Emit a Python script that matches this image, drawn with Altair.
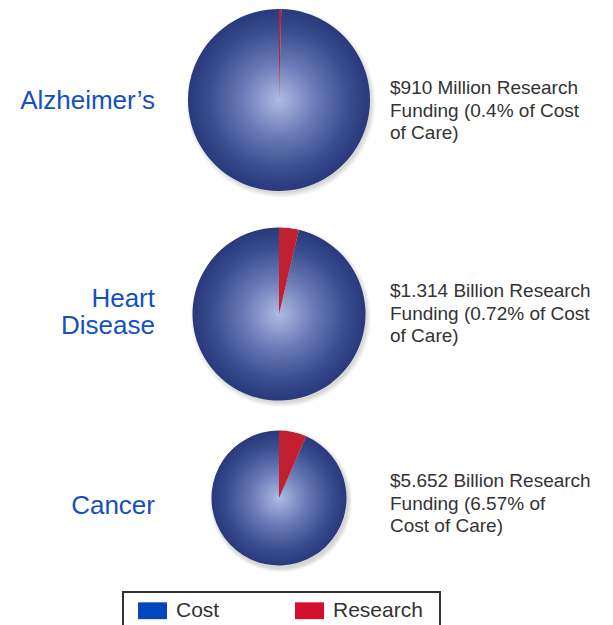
import math
import altair as alt
import pandas as pd

# ---------------- data ----------------
diseases = ["Alzheimer's", "Heart Disease", "Cancer"]
disease_labels = ["Alzheimer\u2019s", "Heart\nDisease", "Cancer"]
research_share = [0.4, 3.7, 6.6]      # % of each pie
cost_share = [99.6, 96.3, 93.4]
funding_notes = [
    "$910 Million Research\nFunding (0.4% of Cost\nof Care)",
    "$1.314 Billion Research\nFunding (0.72% of Cost\nof Care)",
    "$5.652 Billion Research\nFunding (6.57% of\nCost of Care)",
]
legend_categories = ["Cost", "Research"]
legend_colors = ["#0047bb", "#d2102e"]

# ---------------- layout / style ----------------
W, H = 597, 617
CX = 271
centers_y = [92, 306, 490]
radii = [91, 86.5, 67.5]
left_label_y = [101, 299, 506]
note_y = [86, 289, 479]
FONT = "Liberation Sans"
RED = "#c21f30"

pie_gradient = {
    "gradient": "radial",
    "x1": 0.5, "y1": 0.5, "r1": 0,
    "x2": 0.5, "y2": 0.5, "r2": 0.5,
    "stops": [
        {"offset": 0.0, "color": "#adbce3"},
        {"offset": 0.4, "color": "#6b7bb7"},
        {"offset": 0.78, "color": "#384b8d"},
        {"offset": 1.0, "color": "#283a7c"},
    ],
}
shadow_gradient = {
    "gradient": "radial",
    "x1": 0.5, "y1": 0.5, "r1": 0,
    "x2": 0.5, "y2": 0.5, "r2": 0.5,
    "stops": [
        {"offset": 0.0, "color": "rgba(0,0,0,0.22)"},
        {"offset": 0.94, "color": "rgba(0,0,0,0.16)"},
        {"offset": 1.0, "color": "rgba(0,0,0,0)"},
    ],
}

rows = []
for d, c, r in zip(diseases, cost_share, research_share):
    rows.append({"disease": d, "type": "Cost", "share": c})
    rows.append({"disease": d, "type": "Research", "share": r})
pie_df = pd.DataFrame(rows)
label_df = pd.DataFrame({"disease": diseases, "label": disease_labels, "note": funding_notes})

layers = []
for i, d in enumerate(diseases):
    shadow = alt.Chart(alt.Data(values=[{}])).mark_arc(
        theta=0, theta2=2 * math.pi, radius=radii[i] + 4, fill=shadow_gradient
    ).encode(x=alt.value(CX + 2), y=alt.value(centers_y[i] + 3))

    pie = alt.Chart(pie_df).transform_filter(alt.datum.disease == d).mark_arc(
        radius=radii[i]
    ).encode(
        theta=alt.Theta("share:Q", stack=True),
        order=alt.Order("type:N", sort="descending"),
        fill=alt.condition(alt.datum.type == "Cost", alt.value(pie_gradient), alt.value(RED)),
        x=alt.value(CX),
        y=alt.value(centers_y[i]),
    )

    left = alt.Chart(label_df).transform_filter(alt.datum.disease == d).mark_text(
        align="right", baseline="alphabetic", font=FONT, fontSize=26,
        color="#1450c0", lineBreak="\n", lineHeight=27,
    ).encode(text="label:N", x=alt.value(147), y=alt.value(left_label_y[i]))

    note = alt.Chart(label_df).transform_filter(alt.datum.disease == d).mark_text(
        align="left", baseline="alphabetic", font=FONT, fontSize=19,
        color="#333333", lineBreak="\n", lineHeight=22.7,
    ).encode(text="note:N", x=alt.value(382), y=alt.value(note_y[i]))

    layers += [shadow, pie, left, note]

legend_layer = alt.Chart(pd.DataFrame({"type": legend_categories})).mark_square(opacity=0).encode(
    x=alt.value(0), y=alt.value(0),
    color=alt.Color(
        "type:N",
        scale=alt.Scale(domain=legend_categories, range=legend_colors),
        legend=alt.Legend(
            title=[" ", " "], titleOrient="right", titleFontSize=20, titleLineHeight=20,
            titlePadding=13, titleFont=FONT,
            orient="none", legendX=115, legendY=584, direction="horizontal",
            symbolType="M-1,-0.58H1V0.58H-1Z", symbolSize=841, symbolOpacity=1,
            symbolStrokeWidth=0, symbolOffset=11, labelFontSize=21, labelFont=FONT,
            labelColor="#333333", labelOffset=9, columnPadding=64, padding=4,
            strokeColor="#333333",
        ),
    ),
)
layers.append(legend_layer)

chart = alt.layer(*layers).properties(
    width=W, height=H, autosize=alt.AutoSizeParams(type="none"), padding=0,
    background="white",
).configure_view(stroke=None).configure_legend(strokeWidth=2)

chart.save("out.html", embed_options={"renderer": "svg", "actions": False})
